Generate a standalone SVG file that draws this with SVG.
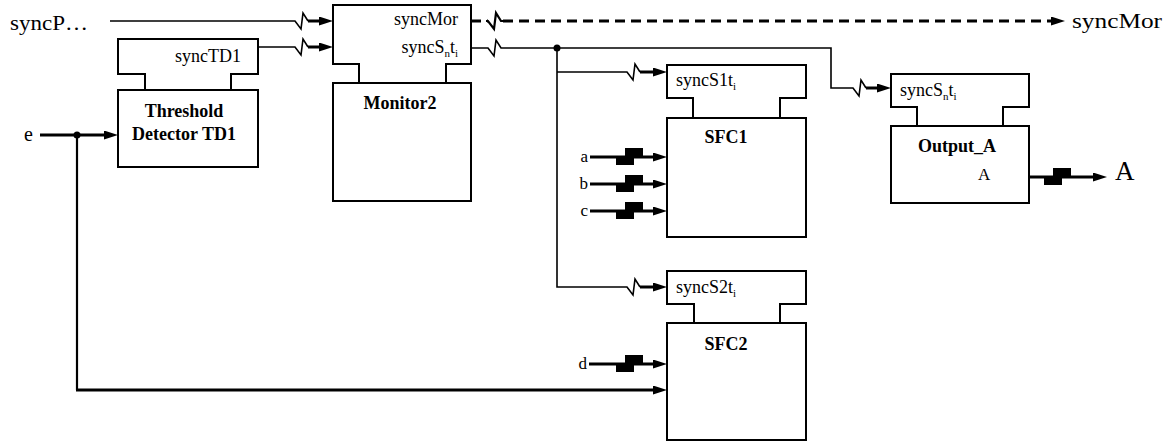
<svg xmlns="http://www.w3.org/2000/svg" width="1170" height="444" viewBox="0 0 1170 444">
<defs>
<style>
.box{fill:#fff;stroke:#000;stroke-width:2}
.hdr{fill:none;stroke:#000;stroke-width:2}
.thin{fill:none;stroke:#000;stroke-width:1.6}
.thick{fill:none;stroke:#000;stroke-width:3}
.mid{fill:none;stroke:#000;stroke-width:2.2}
.dash{fill:none;stroke:#000;stroke-width:3;stroke-dasharray:10 6}
text{font-family:"Liberation Serif","Times New Roman",serif;fill:#000}
.lbl{font-size:18px}
.big{font-size:20px}
.b{font-size:18px;font-weight:bold;text-anchor:middle}
.sm{font-size:17px}
.sub{font-size:11px}
.end{text-anchor:end}
</style>
<marker id="arr" viewBox="0 0 14 9" refX="8" refY="4.5" markerWidth="14" markerHeight="9" markerUnits="userSpaceOnUse" orient="auto"><path d="M0,0 L14,4.5 L0,9 z" fill="#000"/></marker>
<g id="blk" fill="#000"><rect x="0" y="-1" width="18" height="9"/><rect x="9" y="-9" width="18" height="9"/></g>
</defs>
<rect width="1170" height="444" fill="#fff"/>

<g id="connectors">
  <!-- syncP -->
  <path class="thin" d="M110,21 H295 L301,29 L303,13 L308,21"/>
  <path class="thick" d="M308,21 H327" marker-end="url(#arr)"/>
  <!-- syncTD1 -->
  <path class="thin" d="M258,47 H295 L301,55 L303,39 L308,47"/>
  <path class="thick" d="M308,47 H327" marker-end="url(#arr)"/>
  <!-- syncMor out -->
  <path class="dash" d="M471,21 H488"/>
  <path class="mid" d="M486,21 H488 L494,29 L496,13 L501,21 H503"/>
  <path class="dash" d="M503,21 H1059" marker-end="url(#arr)"/>
  <!-- syncSnti out -->
  <path class="thin" d="M471,48 H488 L494,56 L496,40 L501,48 H831 V88 H853 L859,96 L861,80 L866,88"/>
  <path class="thick" d="M866,88 H885" marker-end="url(#arr)"/>
  <circle cx="557" cy="48" r="3.5" fill="#000"/>
  <path class="thin" d="M557,48 V287 H627 L633,295 L635,279 L640,287"/>
  <path class="thick" d="M640,287 H661" marker-end="url(#arr)"/>
  <path class="thin" d="M557,72 H627 L633,80 L635,64 L640,72"/>
  <path class="thick" d="M640,72 H661" marker-end="url(#arr)"/>
  <!-- a b c d -->
  <path class="thick" d="M590,157 H661" marker-end="url(#arr)"/>
  <use href="#blk" x="616" y="157"/>
  <path class="thick" d="M590,184 H661" marker-end="url(#arr)"/>
  <use href="#blk" x="616" y="184"/>
  <path class="thick" d="M590,211 H661" marker-end="url(#arr)"/>
  <use href="#blk" x="616" y="211"/>
  <path class="thick" d="M589,364 H661" marker-end="url(#arr)"/>
  <use href="#blk" x="616" y="364"/>
  <!-- e -->
  <path class="thick" d="M40,135 H112" marker-end="url(#arr)"/>
  <circle cx="77" cy="135" r="3.5" fill="#000"/>
  <path class="mid" d="M77,135 V390"/>
  <path class="thick" d="M76,390 H661" marker-end="url(#arr)"/>
  <!-- A out -->
  <path class="thick" d="M1029,177 H1101" marker-end="url(#arr)"/>
  <use href="#blk" x="1044" y="177"/>
</g>

<g id="td1">
  <path class="hdr" d="M145,90 V74 H118 V39 H258 V74 H231 V90"/>
  <rect class="box" x="118" y="90" width="140" height="77"/>
  <text class="lbl" x="175" y="62">syncTD1</text>
  <text class="b" x="184" y="117">Threshold</text>
  <text class="b" x="184" y="140">Detector TD1</text>
</g>

<g id="monitor2">
  <path class="hdr" d="M359,83 V64 H333 V5 H471 V64 H446 V83"/>
  <rect class="box" x="333" y="83" width="138" height="118"/>
  <text class="lbl end" x="458" y="25">syncMor</text>
  <text class="lbl end" x="458" y="53">syncS<tspan class="sub" dy="4">n</tspan><tspan dy="-4">t</tspan><tspan class="sub" dy="4">i</tspan></text>
  <text class="b" x="400" y="109">Monitor2</text>
</g>

<g id="sfc1">
  <path class="hdr" d="M693,118 V98 H667 V65 H806 V98 H780 V118"/>
  <rect class="box" x="667" y="118" width="139" height="119"/>
  <text class="lbl" x="676" y="86">syncS1t<tspan class="sub" dy="4">i</tspan></text>
  <text class="b" x="726" y="143">SFC1</text>
</g>

<g id="sfc2">
  <path class="hdr" d="M694,323 V304 H667 V271 H806 V304 H780 V323"/>
  <rect class="box" x="667" y="323" width="139" height="117"/>
  <text class="lbl" x="676" y="293">syncS2t<tspan class="sub" dy="4">i</tspan></text>
  <text class="b" x="726" y="350">SFC2</text>
</g>

<g id="output_a">
  <path class="hdr" d="M917,126 V107 H891 V74 H1029 V107 H1003 V126"/>
  <rect class="box" x="891" y="126" width="138" height="77"/>
  <text class="lbl" x="900" y="96">syncS<tspan class="sub" dy="4">n</tspan><tspan dy="-4">t</tspan><tspan class="sub" dy="4">i</tspan></text>
  <text class="b" x="957" y="152">Output_A</text>
  <text class="sm" x="978" y="180">A</text>
</g>

<g id="labels">
  <text class="big" x="10" y="30" textLength="78" lengthAdjust="spacingAndGlyphs">syncP…</text>
  <text class="big" x="1072" y="28" textLength="90" lengthAdjust="spacingAndGlyphs">syncMor</text>
  <text class="big" x="24" y="141">e</text>
  <text class="sm end" x="588" y="162">a</text>
  <text class="sm end" x="588" y="189">b</text>
  <text class="sm end" x="588" y="216">c</text>
  <text class="sm end" x="587" y="369">d</text>
  <text x="1115" y="180" style="font-size:27px">A</text>
</g>
</svg>
